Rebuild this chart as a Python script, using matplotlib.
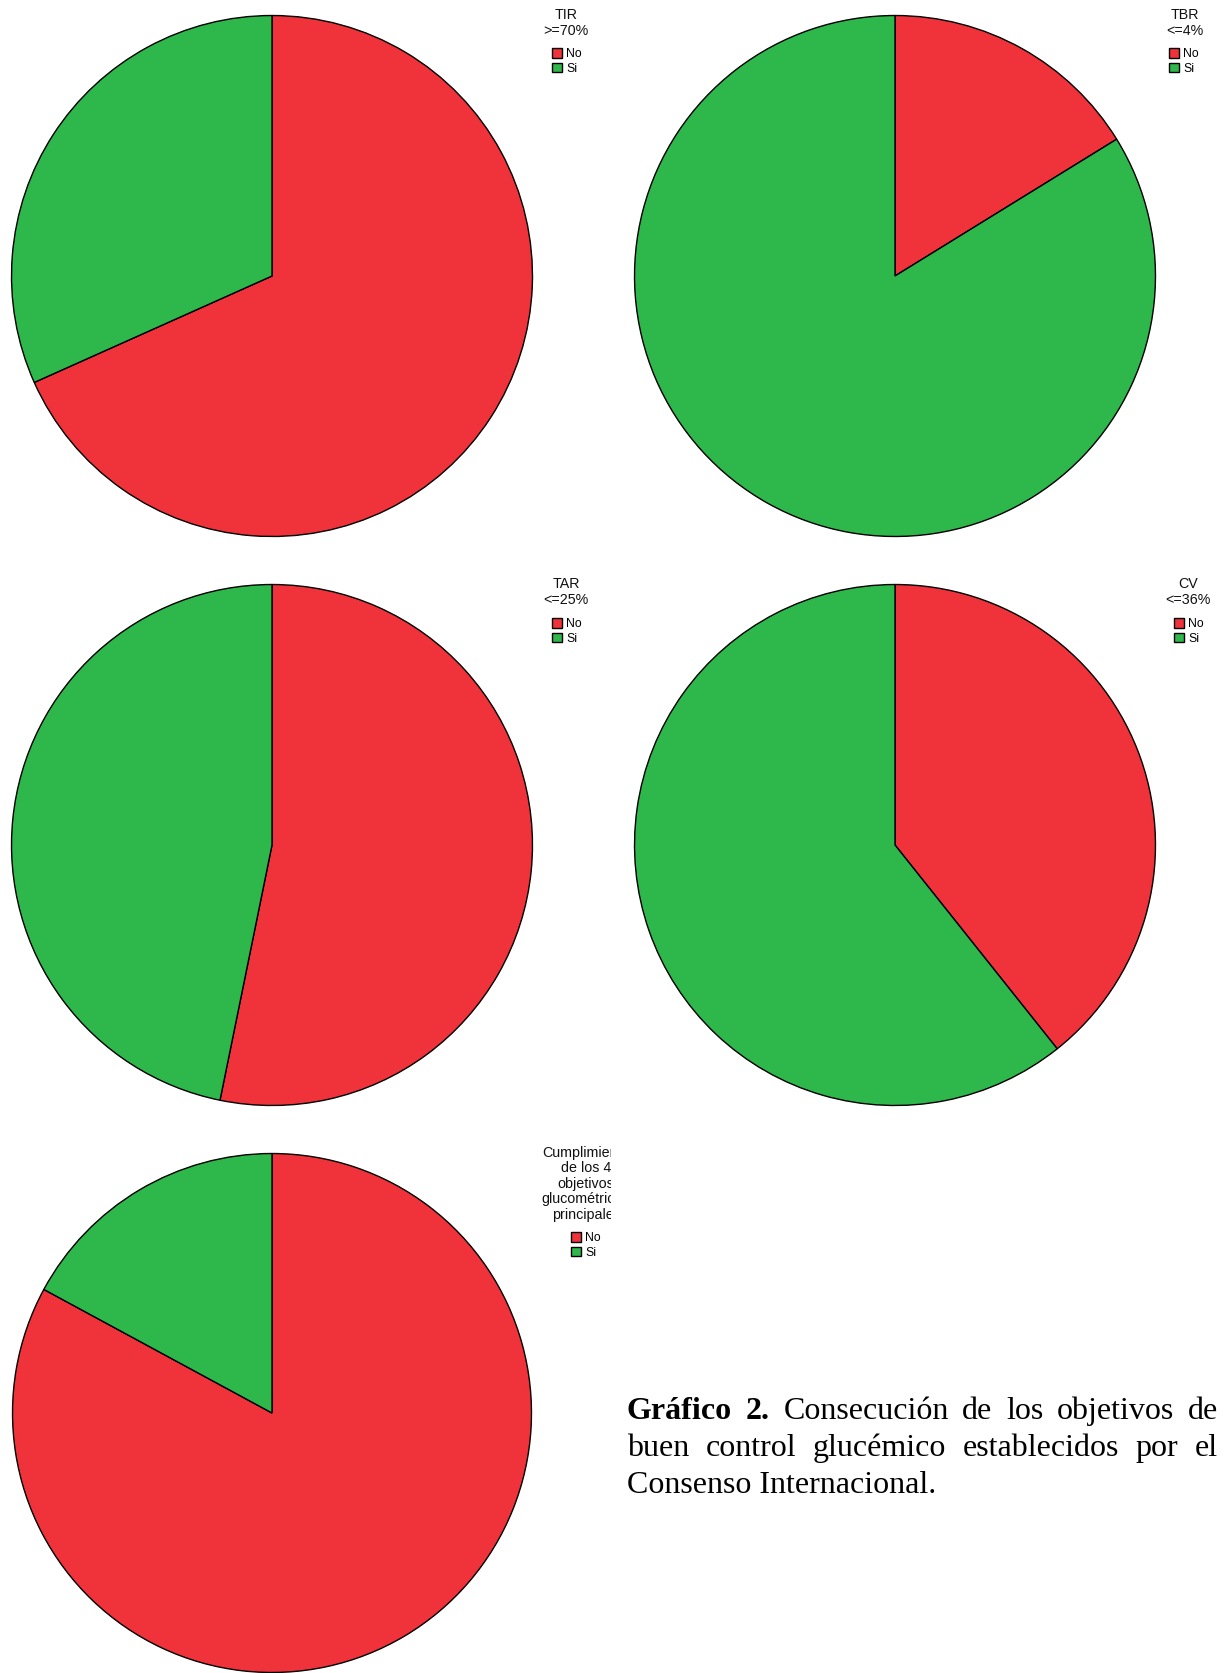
import matplotlib
matplotlib.use('Agg')
import matplotlib.pyplot as plt
from matplotlib.transforms import Bbox

plt.rcParams['font.family'] = ['Liberation Sans', 'DejaVu Sans']

W, H = 1225, 1673

red = '#F0333B'
green = '#2EB74B'

labels = ['No', 'Si']

# percentage of patients (No / Si) for each glycaemic target
tir = [68.3, 31.7]
tbr = [16.2, 83.8]
tar = [53.2, 46.8]
cv = [39.3, 60.7]
cumplimiento = [82.9, 17.1]

tir_title = ['TIR', '>=70%']
tbr_title = ['TBR', '<=4%']
tar_title = ['TAR', '<=25%']
cv_title = ['CV', '<=36%']
cumpl_title = ['Cumplimiento', 'de los 4', 'objetivos', 'glucométricos', 'principales']

caption_l1 = [('Gráfico', 'bold'), ('2.', 'bold'), ('Consecución', 'normal'),
              ('de', 'normal'), ('los', 'normal'), ('objetivos', 'normal'), ('de', 'normal')]
caption_l2 = ['buen', 'control', 'glucémico', 'establecidos', 'por', 'el']
caption_l3 = 'Consenso Internacional.'

fig = plt.figure(figsize=(W / 100, H / 100), dpi=100)
fig.patch.set_facecolor('white')


def fy(y):
    return 1 - y / H


def pie_panel(values, cx, cy, r, title, tx, ty, line_dy, box_x, box_y, clip_right=None):
    ax = fig.add_axes([(cx - r) / W, fy(cy + r), 2 * r / W, 2 * r / H])
    wedges, _ = ax.pie(values, colors=[red, green], startangle=90, counterclock=False,
                       radius=1, wedgeprops=dict(edgecolor='black', linewidth=1.0))
    ax.set_xlim(-1.002, 1.002)
    ax.set_ylim(-1.002, 1.002)
    ax.axis('off')

    for i, line in enumerate(title):
        t = fig.text(tx / W, fy(ty + i * line_dy), line, ha='center', va='center',
                     fontsize=10.3, color='#111111')
        if clip_right is not None:
            t.set_clip_box(Bbox.from_extents(0, 0, clip_right, H))
            t.set_clip_on(True)

    ax.legend(wedges, labels, loc='upper left', bbox_to_anchor=(box_x / W, fy(box_y)),
              bbox_transform=fig.transFigure, frameon=False, fontsize=8.8,
              handlelength=0.85, handleheight=0.85, handletextpad=0.3,
              labelspacing=0.2, borderpad=0, borderaxespad=0)
    return ax


pie_panel(tir, 272, 276, 261, tir_title, 566, 15, 16, 552, 48)
pie_panel(tbr, 895, 276, 261, tbr_title, 1185, 15, 16, 1169, 48)
pie_panel(tar, 272, 845, 261, tar_title, 566, 584, 16, 552, 618)
pie_panel(cv, 895, 845, 261, cv_title, 1188, 584, 16, 1174, 618)
pie_panel(cumplimiento, 272, 1413, 260, cumpl_title, 586, 1153, 15.5, 571, 1232,
          clip_right=611)

# caption, justified between left and right margins
cap_size = 23
left, right = 627, 1218
fig.canvas.draw()
renderer = fig.canvas.get_renderer()


def justified(words, y):
    arts = [fig.text(0, fy(y), w, fontsize=cap_size, family='Liberation Serif',
                     weight=wt, va='baseline', ha='left') for w, wt in words]
    widths = [a.get_window_extent(renderer).width for a in arts]
    gap = (right - left - sum(widths)) / (len(arts) - 1)
    x = left
    for a, w in zip(arts, widths):
        a.set_x(x / W)
        x += w + gap


justified(caption_l1, 1419)
justified([(w, 'normal') for w in caption_l2], 1456)
fig.text(left / W, fy(1493), caption_l3, fontsize=cap_size, family='Liberation Serif',
         va='baseline', ha='left')

fig.savefig('out.png', dpi=100, facecolor='white')
